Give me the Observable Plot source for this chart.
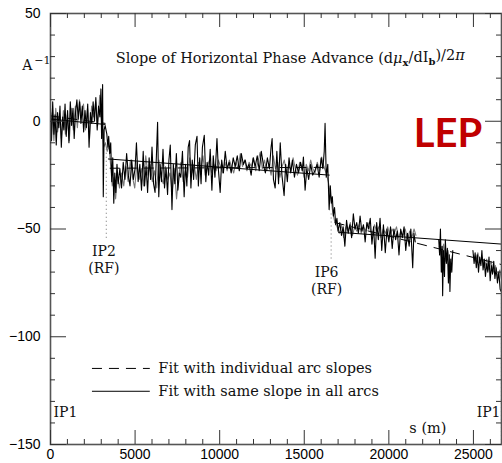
<!DOCTYPE html>
<html>
<head>
<meta charset="utf-8">
<script src="https://cdn.jsdelivr.net/npm/d3@7"></script>
<script src="https://cdn.jsdelivr.net/npm/@observablehq/plot@0.6"></script>
<style>
  body { margin: 0; background: #fff; }
</style>
</head>
<body>
<div id="chart"></div>
<script>
// ---- data (s in metres, slope in A^-1) ----
const blackTrace = [
  [0,6],[60,-9],[130,9],[200,-6],[270,3],[340,-11],[420,4],[490,-3],[560,7],[640,-12],[720,2],[790,-4],[860,8],[930,-7],[1010,5],[1090,-10],[1170,9],[1250,-2],[1330,6],[1400,-8],[1480,4],[1560,10],[1640,1],[1720,9],[1800,-1],[1880,7],[1960,-5],[2040,5],[2120,-3],[2200,8],[2280,-12],[2360,4],[2440,-1],[2520,9],[2600,0],[2680,11],[2760,-4],[2840,7],[2920,2],[2980,15],[3020,-8],[3080,17],[3120,-35],[3170,-4],[3230,-2],
  [3330,-6],[3390,-12],[3440,-7],[3500,-15],[3560,-10],[3620,-28],[3680,-17],[3740,-38],[3800,-24],[3860,-33],[3930,-20],
  [4000,-29],[4100,-22],[4200,-31],[4300,-19],[4400,-27],[4500,-15],[4600,-25],[4700,-30],[4800,-18],[4900,-27],[5000,-22],[5080,-10],[5180,-28],[5280,-20],[5380,-32],[5480,-14],[5560,-30],[5650,-21],[5740,-33],[5830,-17],[5920,-27],[6000,-12],[6090,-29],[6180,-33],[6260,-16],[6330,-0.5],[6400,-35],[6480,-20],[6560,-28],[6650,-13],[6740,-31],[6830,-22],[6920,-34],[7000,-18],[7080,-11],[7180,-41],[7260,-20],[7350,-29],[7440,-15],[7530,-32],[7620,-24],[7700,-26],[7800,-14],[7900,-35],[7980,-20],[8060,-30],[8140,-12],[8220,-9],[8300,-31],[8380,-18],[8460,-27],[8560,-11],[8660,-7],[8740,-30],[8820,-17],[8900,-29],[8980,-12],[9090,-6.5],[9180,-28],[9260,-19],[9350,-25],[9440,-13],[9540,-32],[9620,-16],[9720,-26],[9840,-8],[9920,-22],[10030,-33],[10120,-18],[10220,-24],[10330,-14],[10440,-22],[10560,-19],[10680,-24],[10800,-17],[10920,-21],[11040,-16],[11160,-23],[11280,-15],[11400,-20],[11510,-18],[11620,-22],[11740,-20],[11860,-25],[11980,-17],[12100,-21],[12220,-16],[12340,-23],[12460,-14],[12580,-20],[12700,-24],[12820,-17],[12940,-22],[13040,-12],[13100,-8],[13180,-27],[13280,-31],[13380,-14],[13480,-29],[13580,-10],[13680,-25],[13810,-34.5],[13900,-20],[14000,-28],[14100,-17],[14200,-24],[14300,-18],[14420,-26],[14540,-20],[14660,-24],[14780,-19],[14880,-23],[14950,-16.6],[15050,-32],[15150,-22],[15260,-27],[15380,-20],[15500,-25],[15640,-22.7],[15760,-20],[15880,-26],[16000,-17],[16100,-22],[16180,-14],[16230,-1],[16300,-26],[16390,-20],[16470,-41],[16540,-30],[16600,-38],[16660,-35],[16720,-44],[16790,-40],[16860,-48],[16930,-45],[17000,-51],
  [17100,-47],[17200,-53],[17300,-49],[17400,-58],[17500,-46],[17600,-52],[17700,-48],[17800,-54],[17900,-43],[18000,-50],[18100,-47],[18200,-52],[18300,-44],[18400,-51],[18500,-48],[18600,-56],[18700,-47],[18800,-50],[18900,-45],[19000,-57],[19100,-49],[19190,-63.6],[19280,-47],[19380,-55],[19480,-45],[19580,-60],[19680,-48],[19790,-61],[19890,-50],[20000,-56],[20100,-49],[20200,-59],[20300,-50],[20400,-55],[20500,-51],[20600,-62],[20700,-50],[20800,-54],[20900,-49],[21000,-60],[21100,-52],[21200,-58],[21300,-50],[21410,-68],[21480,-52],[21560,-56],
  [21700,null],
  [22950,-55],[23000,-62],[23050,-50],[23100,-70],[23150,-58],[23180,-81],[23230,-60],[23290,-72],[23340,-55],[23400,-66],[23460,-59],[23520,-75],[23570,-62],[23610,-79],[23660,-64],[23720,-70],[23780,-60],
  [23850,null],
  [24970,-60],[25040,-66],[25100,-61],[25170,-68],[25230,-62],[25300,-70],[25370,-63],[25440,-67],[25500,-60],[25570,-69],[25640,-64],[25710,-72],[25780,-66],[25850,-70],[25920,-63],[25990,-74],[26060,-67],[26130,-71],[26200,-65],[26270,-73],[26340,-68],[26420,-75],[26500,-70],[26580,-78],[26640,-79]
];

const grayTrace = [
  [0,-3],[100,4],[200,-9],[310,6],[420,-5],[530,2],[640,-8],[760,5],[880,-6],[990,3],[1110,-9],[1230,6],[1350,-4],[1470,7],[1590,-3],[1710,10],[1830,2],[1950,8],[2070,-4],[2190,6],[2310,-8],[2430,7],[2550,2],[2670,9],[2790,-2],[2910,12],[3030,-1],[3150,-12],[3250,-10],[3350,-14],
  [3450,-11],[3550,-20],[3650,-30],[3750,-26],[3850,-36],[3950,-25],[4080,-31],[4200,-24],[4330,-30],[4460,-21],[4590,-28],[4720,-18],[4850,-26],[4980,-31],[5110,-19],[5240,-27],[5370,-22],[5500,-30],[5630,-16],[5760,-25],[5890,-20],[6020,-28],[6150,-23],[6280,-31],[6410,-18],[6540,-26],[6670,-29],[6800,-21],[6930,-27],[7060,-24],[7190,-33],[7320,-22],[7450,-36],[7580,-25],[7710,-19],[7840,-28],[7970,-23],[8100,-26],[8230,-17],[8360,-24],[8490,-20],[8620,-27],[8750,-19],[8880,-23],[9010,-16],[9140,-25],[9270,-21],[9400,-18],[9530,-24],[9660,-20],[9790,-23],[9920,-18],[10050,-21],[10180,-24],[10310,-19],[10440,-23],[10570,-18],[10700,-21],[10830,-24],[10960,-19],[11090,-22],[11220,-15],[11350,-21],[11480,-18],[11610,-23],[11740,-19],[11870,-21],[12000,-17],[12130,-23],[12260,-19],[12390,-14.4],[12520,-22],[12650,-18],[12780,-23],[12910,-20],[13040,-25],[13170,-16],[13300,-22],[13430,-19],[13560,-26],[13690,-21],[13820,-18],[13950,-24],[14080,-20],[14210,-23],[14340,-17],[14470,-22],[14600,-25],[14730,-19],[14860,-21],[14990,-26],[15120,-20],[15250,-23],[15380,-18],[15510,-22],[15640,-24],[15770,-19],[15900,-23],[16030,-16.6],[16160,-21],[16290,-24],[16420,-28],[16550,-34],[16680,-42],[16810,-47],[16940,-49],
  [17070,-52],[17200,-48],[17330,-54],[17460,-49],[17590,-51],[17720,-47],[17850,-53],[17980,-49],[18110,-51],[18240,-48],[18370,-52],[18500,-49],[18630,-51],[18760,-47],[18890,-50],[19020,-53],[19150,-48],[19280,-51],[19410,-49],[19540,-54],[19670,-50],[19800,-52],[19930,-49],[20060,-53],[20190,-50],[20320,-52],[20450,-49],[20580,-54],[20710,-51],[20840,-53],[20970,-50],[21100,-55],[21230,-51],[21360,-54],[21490,-50],[21600,-53],
  [21700,null],
  [22980,-58],[23110,-63],[23240,-57],[23370,-65],[23500,-60],[23630,-67],[23760,-62],
  [23850,null],
  [25000,-62],[25130,-65],[25260,-61],[25390,-66],[25520,-63],[25650,-68],[25780,-64],[25910,-69],[26040,-65],[26170,-70],[26300,-67],[26430,-72],[26560,-69],[26650,-73]
];

// fits: [s start, y start, s end, y end]
const fitSameSlope = [[0,1,3250,-1.5],[3400,-17.5,16500,-25],[17000,-51.5,26659,-57]];
const fitIndividual = [[0,2.5,3250,-1],[3500,-21.8,16450,-21.4],[16800,-47,26659,-66.5]];

// interaction points (s) and labels
const ipMarkers = [
  {s: 3300, from: -13, to: -55},
  {s: 16590, from: -43, to: -64},
  {s: 26659, from: -79, to: -150}
];
const ipLabels = [
  {s: 3160, y: -60.4, text: "IP2"}, {s: 3160, y: -68.2, text: "(RF)"},
  {s: 16320, y: -70, text: "IP6"}, {s: 16320, y: -78, text: "(RF)"}
];
const ip1Left = [{s: 0, y: -135, text: "IP1"}];
const ip1Right = [{s: 26659, y: -135, text: "IP1"}];

const xMajor = [0, 5000, 10000, 15000, 20000, 25000];
const xMinor = d3.range(0, 26659, 1000).filter(v => v % 5000 !== 0);
const yMajor = [50, 0, -50, -100, -150];
const yMinor = d3.range(-150, 51, 10).filter(v => v % 50 !== 0);

const legendDashed = [{y: -114.7, text: "Fit with individual arc slopes"}];
const legendSolid = [{y: -125.3, text: "Fit with same slope in all arcs"}];
const legendSpan = [2480, 5900, 6375];

const TITLE = "Slope of Horizontal Phase Advance (dμx/dIb)/2π";
const UNIT = "A−1";
const SERIF = "'DejaVu Serif', serif";
const SANS = "'Liberation Sans', Arial, sans-serif";
const FRAME_H = 431, FRAME_W = 451;
const SERIF_SIZE = 14.5;

const plot = Plot.plot({
  width: 502,
  height: 463,
  marginLeft: 50,
  marginRight: 1,
  marginTop: 13,
  marginBottom: 19,
  x: {domain: [0, 26659]},
  y: {domain: [-150, 50]},
  style: {fontFamily: SANS, fontSize: "14px", color: "#000", background: "#fff"},
  marks: [
    // traces
    Plot.line(grayTrace, {x: d => d[0], y: d => d[1], stroke: "#7a7a7a", strokeWidth: 1.1}),
    Plot.line(blackTrace, {x: d => d[0], y: d => d[1], stroke: "#000", strokeWidth: 1.1}),
    // fits
    Plot.link(fitSameSlope, {x1: d => d[0], y1: d => d[1], x2: d => d[2], y2: d => d[3], stroke: "#000", strokeWidth: 1}),
    Plot.link(fitIndividual, {x1: d => d[0], y1: d => d[1], x2: d => d[2], y2: d => d[3], stroke: "#000", strokeWidth: 1, strokeDasharray: "10,7"}),
    // IP dotted markers
    Plot.ruleX(ipMarkers, {x: "s", y1: "from", y2: "to", stroke: "#888", strokeWidth: 1.2, strokeDasharray: "1,3"}),
    Plot.text(ipLabels, {x: "s", y: "y", text: "text", fontFamily: SERIF, fontSize: 14, fill: "#111"}),
    Plot.text(ip1Left, {x: "s", y: "y", text: "text", textAnchor: "start", dx: 3, fontFamily: SERIF, fontSize: 14, fill: "#111"}),
    Plot.text(ip1Right, {x: "s", y: "y", text: "text", textAnchor: "end", dx: -1, fontFamily: SERIF, fontSize: 14, fill: "#111"}),
    // title & labels
    Plot.text([TITLE], {x: 14170, y: 29.2, text: d => d, fontFamily: SERIF, fontSize: 14.5, fill: "#111"}),
    Plot.text(["LEP"], {x: 23500, y: -5.8, text: d => d, fontFamily: "Lato, 'Open Sans', sans-serif", fontWeight: "bold", fontSize: 40, fill: "#c00000"}),
    Plot.text(["s (m)"], {x: 22310, y: -142.5, text: d => d, fontFamily: SERIF, fontSize: SERIF_SIZE, fill: "#111"}),
    // legend
    Plot.ruleY(legendDashed, {y: "y", x1: legendSpan[0], x2: legendSpan[1], stroke: "#000", strokeWidth: 1, strokeDasharray: "10,7"}),
    Plot.ruleY(legendSolid, {y: "y", x1: legendSpan[0], x2: legendSpan[1], stroke: "#000", strokeWidth: 1}),
    Plot.text(legendDashed.concat(legendSolid), {y: "y", x: legendSpan[2], text: "text", textAnchor: "start", fontFamily: SERIF, fontSize: SERIF_SIZE, fill: "#111"}),
    // frame & inward ticks
    Plot.frame({stroke: "#555", strokeWidth: 1.6}),
    Plot.tickX(xMajor, {x: d => d, insetTop: FRAME_H - 14, stroke: "#333"}),
    Plot.tickX(xMinor, {x: d => d, insetTop: FRAME_H - 5, stroke: "#333"}),
    Plot.tickX(xMajor, {x: d => d, insetBottom: FRAME_H - 14, stroke: "#333"}),
    Plot.tickX(xMinor, {x: d => d, insetBottom: FRAME_H - 5, stroke: "#333"}),
    Plot.tickY(yMajor, {y: d => d, insetRight: FRAME_W - 16, stroke: "#333"}),
    Plot.tickY(yMinor, {y: d => d, insetRight: FRAME_W - 5, stroke: "#333"}),
    Plot.tickY(yMajor, {y: d => d, insetLeft: FRAME_W - 16, stroke: "#333"}),
    Plot.tickY(yMinor, {y: d => d, insetLeft: FRAME_W - 5, stroke: "#333"}),
    // unit label beside the y axis
    Plot.text([UNIT], {x: 0, y: 26, text: d => d, textAnchor: "end", dx: 0, fontFamily: SERIF, fontSize: 14, fill: "#111"}),
    // tick labels
    Plot.axisX({ticks: xMajor, tickSize: 0, tickPadding: 5, tickFormat: d => String(d), label: null, fontSize: 14}),
    Plot.axisY({ticks: yMajor, tickSize: 0, tickPadding: 10, label: null, fontSize: 14})
  ]
});

document.getElementById("chart").appendChild(plot);

// subscripts in title, superscript in unit
const texts = d3.select(plot).selectAll("text");
texts.filter(function () { return this.textContent === TITLE; }).each(function () {
  const t = d3.select(this);
  t.text(null);
  const parts = [
    {s: "Slope of Horizontal Phase Advance (d"},
    {s: "μ", italic: true},
    {s: "x", sub: true},
    {s: "/dI"},
    {s: "b", sub: true},
    {s: ")/2"},
    {s: "π", italic: true}
  ];
  let shifted = false;
  for (const p of parts) {
    const ts = t.append("tspan").text(p.s);
    if (p.italic) ts.attr("font-style", "italic");
    if (p.sub) { ts.attr("dy", "0.3em").attr("font-size", "10px").attr("font-weight", "bold"); shifted = true; }
    else if (shifted) { ts.attr("dy", "-0.3em"); shifted = false; }
  }
});
texts.filter(function () { return this.textContent === UNIT; }).each(function () {
  const t = d3.select(this);
  t.text(null);
  t.append("tspan").text("A");
  t.append("tspan").text("−1").attr("dy", "-0.5em").attr("font-size", "11px").attr("dx", "2");
});
</script>
</body>
</html>
